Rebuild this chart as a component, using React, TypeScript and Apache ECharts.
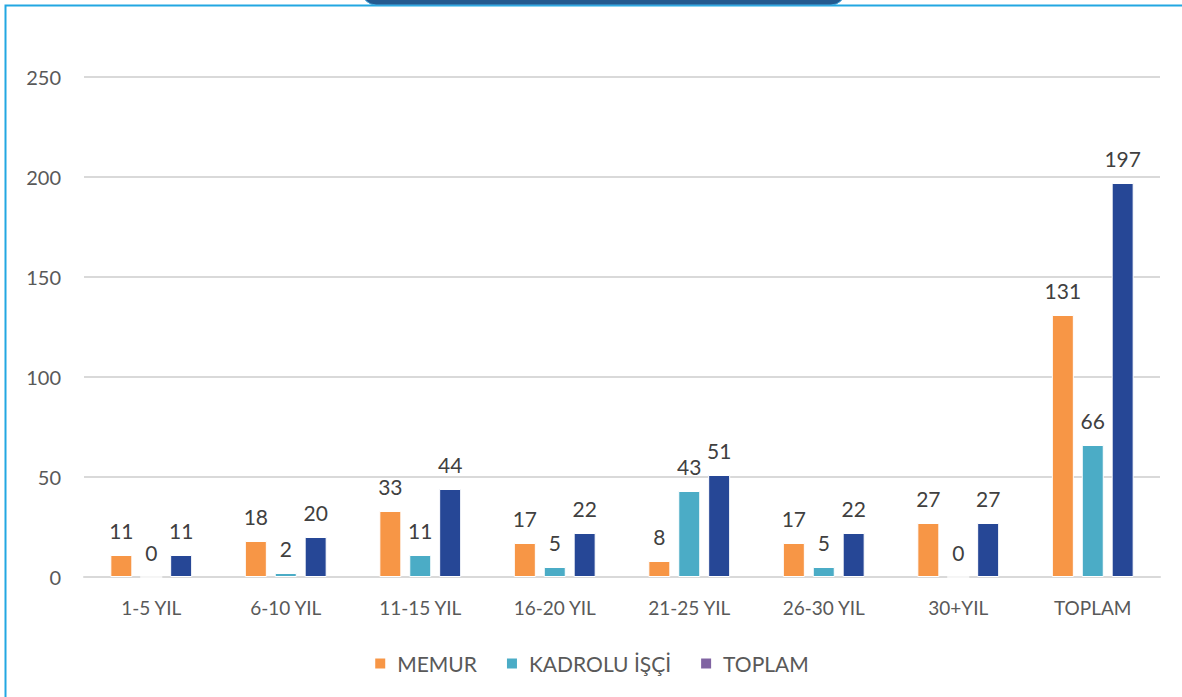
import React, { useEffect, useRef } from "react";
import * as echarts from "echarts";

const categories = ["1-5 YIL", "6-10 YIL", "11-15 YIL", "16-20 YIL", "21-25 YIL", "26-30 YIL", "30+YIL", "TOPLAM"];
const memur = [11, 18, 33, 17, 8, 17, 27, 131];
const kadrolu = [0, 2, 11, 5, 43, 5, 0, 66];
const toplam = [11, 20, 44, 22, 51, 22, 27, 197];
const seriesNames = ["MEMUR", "KADROLU İŞÇİ", "TOPLAM"];

const FONT = "Lato, 'Open Sans', sans-serif";

export default function App() {
  const ref = useRef<HTMLDivElement>(null);
  useEffect(() => {
    if (!ref.current) return;
    const chart = echarts.init(ref.current, null, { renderer: "svg" });
    const label = {
      show: true,
      position: "top",
      distance: 14,
      fontSize: 21,
      color: "#404040",
      fontFamily: FONT,
    };
    const mk = (name: string, data: number[], color: string, barColor: string) => ({
      name,
      type: "bar",
      barWidth: 22,
      barGap: "36%",
      itemStyle: { color, borderColor: "#ffffff", borderWidth: 1 },
      label,
      data: data.map((v) => ({ value: v, itemStyle: { color: barColor } })),
    });
    chart.setOption({
      animation: false,
      backgroundColor: "#ffffff",
      textStyle: { fontFamily: FONT },
      grid: { left: 84, right: 22, top: 77, bottom: 120 },
      legend: {
        data: seriesNames,
        top: 648,
        left: "center",
        itemWidth: 12,
        itemHeight: 12,
        itemGap: 28,
        icon: "rect",
        textStyle: { fontSize: 21, color: "#595959", fontFamily: FONT, padding: [0, 0, 0, 6] },
      },
      xAxis: {
        type: "category",
        data: categories,
        axisLine: { lineStyle: { color: "#d9d9d9", width: 2 } },
        axisTick: { show: false },
        axisLabel: { fontSize: 19, color: "#595959", margin: 21, fontFamily: FONT },
      },
      yAxis: {
        type: "value",
        min: 0,
        max: 250,
        interval: 50,
        axisLine: { show: false },
        axisTick: { show: false },
        splitLine: { lineStyle: { color: "#d9d9d9", width: 2 } },
        axisLabel: { fontSize: 20, color: "#595959", margin: 23, fontFamily: FONT },
      },
      series: [
        mk(seriesNames[0], memur, "#F79646", "#F79646"),
        mk(seriesNames[1], kadrolu, "#4BACC6", "#4BACC6"),
        mk(seriesNames[2], toplam, "#8064A2", "#264796"),
      ],
      graphic: [
        {
          type: "rect",
          silent: true,
          shape: { x: 5.5, y: 5.5, width: 1300, height: 900 },
          style: { fill: "none", stroke: "#22A7E2", lineWidth: 2 },
          z: 100,
        },
        {
          type: "rect",
          silent: true,
          shape: { x: 362, y: -40, width: 483, height: 45, r: 14 },
          style: { fill: "#245A8F", stroke: "#3FA9E0", lineWidth: 1 },
          z: 101,
        },
      ],
    });
    return () => chart.dispose();
  }, []);
  return (
    <div
      ref={ref}
      style={{ position: "fixed", left: 0, top: 0, width: 1182, height: 697 }}
    />
  );
}
